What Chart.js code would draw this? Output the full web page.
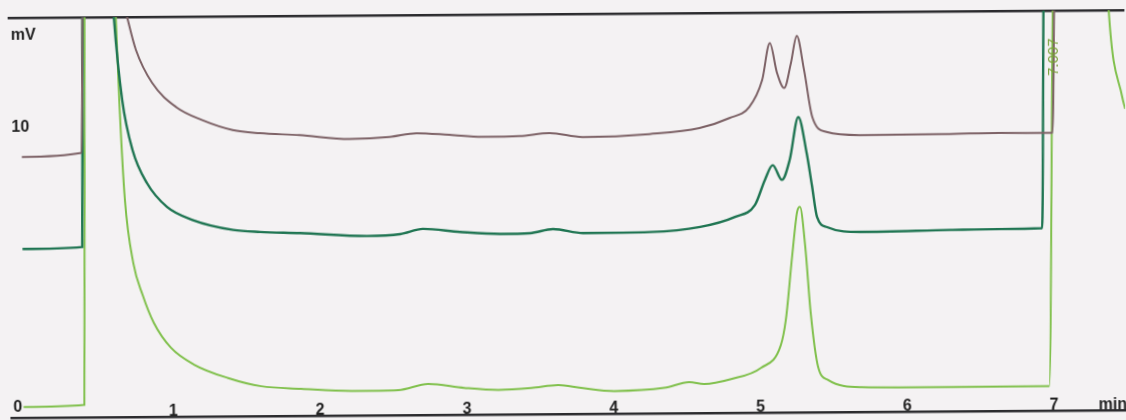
<!DOCTYPE html>
<html>
<head>
<meta charset="utf-8">
<script src="https://cdn.jsdelivr.net/npm/chart.js@4.4.1/dist/chart.umd.min.js"></script>
<style>
  html, body { margin: 0; padding: 0; background: #f4f2f3; overflow: hidden; }
  #wrap { width: 1126px; height: 420px; }
  /* the scan is slightly tilted */
  #chromChart { transform: rotate(-0.4deg); transform-origin: 50% 50%; }
</style>
</head>
<body>
<div id="wrap"><canvas id="chromChart" width="1126" height="420"></canvas></div>
<script>
/* ---------- axis ticks ---------- */
const xTickValues = [1, 2, 3, 4, 5, 6, 7, 7.40];
const xTickLabels = ['1', '2', '3', '4', '5', '6', '7', 'min'];
const yTickValues = [0, 10, 13.3];
const yTickLabels = ['0', '10', 'mV'];
const peakLabelTime = 7.007;
const peakLabelText = '7.007';

/* ---------- traces (time in min, signal in mV) ---------- */
const brownTime = [-0.02, 0.387, 0.40, 0.50, 0.62, 0.700, 0.762, 0.871, 1.034, 1.211, 1.417, 1.600, 1.872, 2.213, 2.485, 2.669, 2.894, 3.118, 3.371, 3.575, 3.800, 4.256, 4.597, 4.801, 4.937, 5.026, 5.080, 5.128, 5.176, 5.223, 5.264, 5.312, 5.366, 5.462, 5.687, 6.300, 6.640, 7.001, 7.02, 7.10, 7.51];
const brownValue = [8.96, 9.09, 14.5, 40, 16.5, 14.0, 12.75, 11.57, 10.70, 10.23, 9.87, 9.75, 9.67, 9.52, 9.58, 9.71, 9.64, 9.56, 9.58, 9.68, 9.53, 9.62, 9.82, 10.17, 10.56, 11.52, 12.84, 11.77, 11.23, 12.12, 13.09, 11.87, 10.19, 9.65, 9.53, 9.55, 9.57, 9.56, 14.5, 40, 25];

const darkTime = [-0.02, 0.387, 0.40, 0.50, 0.58, 0.612, 0.666, 0.734, 0.830, 0.966, 1.143, 1.416, 1.600, 1.872, 2.328, 2.553, 2.709, 2.961, 3.234, 3.438, 3.595, 3.800, 4.256, 4.597, 4.835, 4.971, 5.040, 5.094, 5.156, 5.210, 5.271, 5.326, 5.360, 5.394, 5.462, 5.687, 6.300, 6.640, 6.926, 6.947, 7.05, 7.51];
const darkValue = [5.67, 5.73, 14.5, 40, 17, 14.0, 10.97, 9.18, 8.00, 7.14, 6.66, 6.30, 6.22, 6.17, 6.05, 6.11, 6.29, 6.17, 6.09, 6.11, 6.25, 6.10, 6.12, 6.29, 6.64, 7.06, 7.95, 8.48, 7.95, 8.66, 10.19, 8.90, 7.76, 6.61, 6.25, 6.07, 6.12, 6.14, 6.16, 14.5, 40, 25];

const lightTime = [-0.02, 0.394, 0.414, 0.52, 0.60, 0.626, 0.646, 0.680, 0.734, 0.796, 0.871, 0.986, 1.143, 1.375, 1.600, 1.872, 2.213, 2.533, 2.737, 2.982, 3.214, 3.439, 3.623, 3.779, 4.004, 4.345, 4.515, 4.617, 4.801, 5.005, 5.141, 5.176, 5.223, 5.258, 5.278, 5.312, 5.346, 5.394, 5.462, 5.687, 6.300, 6.967, 7.01, 7.20, 7.39, 7.478, 7.498];
const lightValue = [0.03, 0.09, 14.5, 40, 18, 14.0, 10.96, 7.39, 5.14, 4.00, 3.00, 2.11, 1.50, 1.01, 0.71, 0.61, 0.52, 0.54, 0.75, 0.60, 0.52, 0.58, 0.68, 0.57, 0.45, 0.55, 0.75, 0.68, 0.85, 1.24, 2.05, 2.94, 5.26, 6.80, 6.98, 5.55, 3.19, 1.26, 0.79, 0.53, 0.51, 0.52, 14.2, 40, 13.94, 10.83, 10.4];

function toPoints(times, values){
  return times.map((t, i) => ({ x: t, y: values[i] }));
}

const FONT = '"Liberation Sans", Arial, sans-serif';
const AXIS_COLOR = '#2b2b2e';

/* retention time written beside the last peak */
const peakLabelPlugin = {
  id: 'peakLabel',
  afterDatasetsDraw(chart){
    const ctx = chart.ctx;
    const x = chart.scales.x.getPixelForValue(peakLabelTime);
    const y = chart.scales.y.getPixelForValue(11.6);
    ctx.save();
    ctx.translate(x + 1, y);
    ctx.rotate(-Math.PI / 2);
    ctx.fillStyle = '#78a035';
    ctx.font = '15px ' + FONT;
    ctx.textAlign = 'left';
    ctx.textBaseline = 'middle';
    ctx.fillText(peakLabelText, 0, 0);
    ctx.restore();
  }
};

const lineStyle = {
  pointRadius: 0,
  fill: false,
  cubicInterpolationMode: 'monotone'
};

// no automatic label margins, the plot fills the page like the scan
function noPad(s){
  s.paddingTop = 0; s.paddingBottom = 0; s.paddingLeft = 0; s.paddingRight = 0;
}

new Chart(document.getElementById('chromChart').getContext('2d'), {
  type: 'line',
  data: {
    datasets: [
      Object.assign({ data: toPoints(brownTime, brownValue), borderColor: '#7d6266', borderWidth: 2 }, lineStyle),
      Object.assign({ data: toPoints(darkTime, darkValue), borderColor: '#1f7552', borderWidth: 2.4 }, lineStyle),
      Object.assign({ data: toPoints(lightTime, lightValue), borderColor: '#80c04c', borderWidth: 2 }, lineStyle)
    ]
  },
  options: {
    responsive: false,
    animation: false,
    devicePixelRatio: 1,
    layout: { padding: { left: 10, right: 0, top: 14, bottom: 0 } },
    plugins: { legend: { display: false }, tooltip: { enabled: false } },
    scales: {
      x: {
        type: 'linear',
        position: 'bottom',
        min: -0.1035,
        max: 7.4986,
        afterBuildTicks: s => { s.ticks = xTickValues.map(v => ({ value: v })); },
        afterFit: s => { s.height = 6; noPad(s); },
        grid: { display: false, drawTicks: false },
        border: { display: true, color: AXIS_COLOR, width: 2.5 },
        ticks: {
          autoSkip: false,
          maxRotation: 0,
          mirror: true,
          padding: -4,
          color: '#222',
          font: { family: FONT, size: 16, weight: 'bold' },
          callback: (v, i) => xTickLabels[i]
        }
      },
      xTop: {
        type: 'linear',
        position: 'top',
        min: -0.1035,
        max: 7.4986,
        afterFit: s => { s.height = 0; noPad(s); },
        grid: { display: false, drawTicks: false },
        border: { display: true, color: AXIS_COLOR, width: 2.5 },
        ticks: { display: false }
      },
      y: {
        type: 'linear',
        position: 'left',
        min: -0.357,
        max: 13.93,
        afterBuildTicks: s => { s.ticks = yTickValues.map(v => ({ value: v })); },
        afterFit: s => { s.width = 0; noPad(s); },
        grid: { display: false, drawTicks: false },
        border: { display: false },
        ticks: {
          mirror: true,
          padding: 2,
          color: '#222',
          font: { family: FONT, size: 16, weight: 'bold' },
          callback: (v, i) => yTickLabels[i]
        }
      }
    }
  },
  plugins: [peakLabelPlugin]
});
</script>
</body>
</html>
